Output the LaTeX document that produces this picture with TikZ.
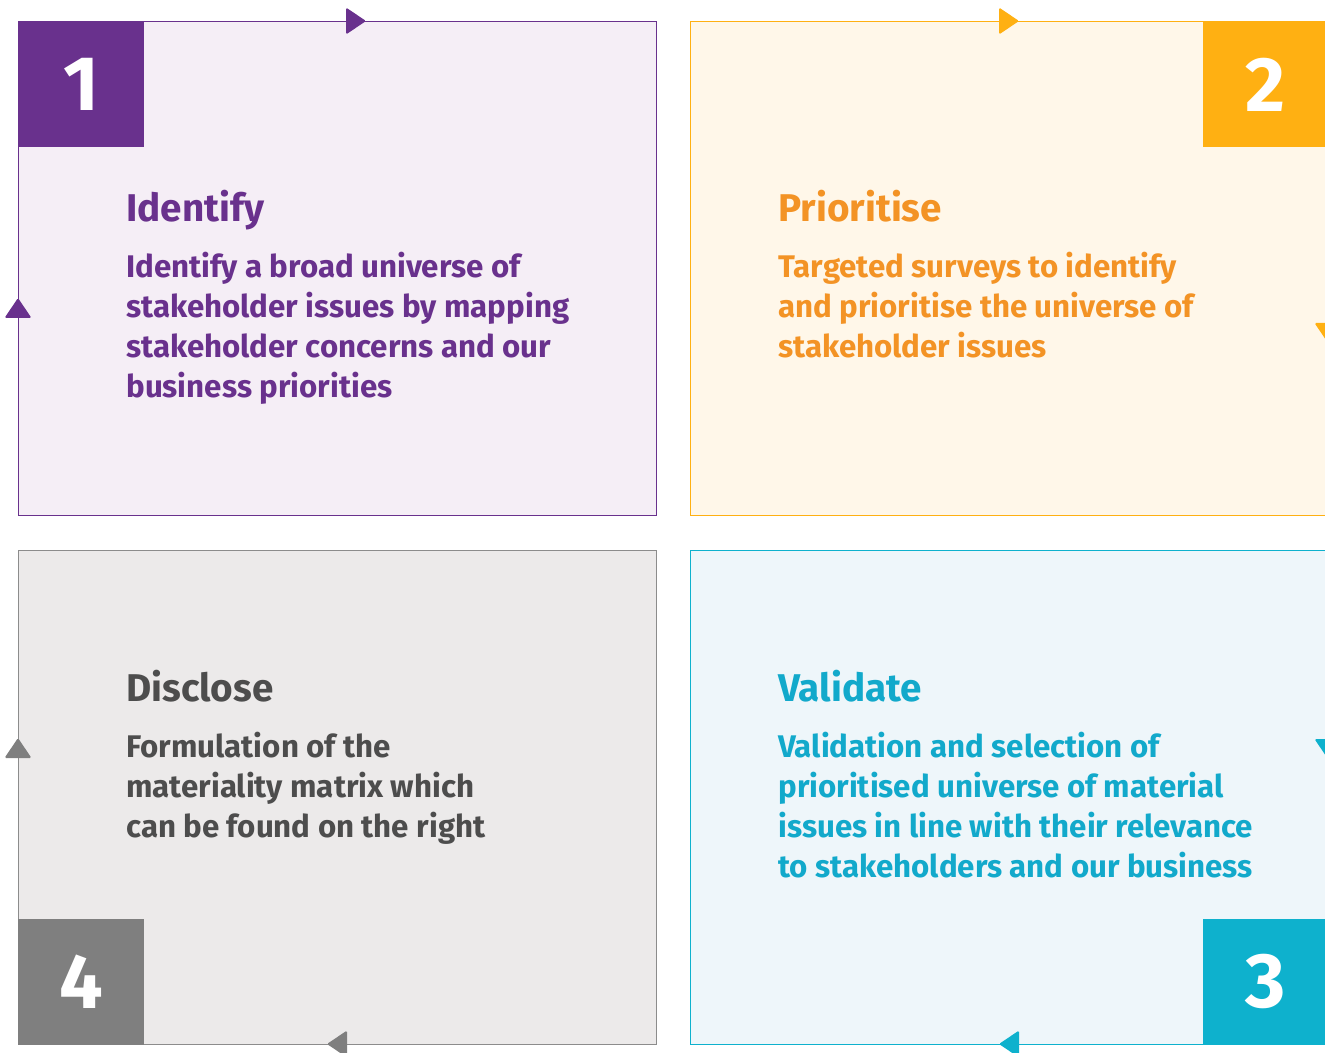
\documentclass[tikz,border=0pt]{standalone}
\usepackage{fontspec}
\setmainfont{Fira Sans}
\usepackage{xcolor}
\usetikzlibrary{positioning}

\definecolor{idpurple}{HTML}{69318D}
\definecolor{idfill}{HTML}{F5EEF6}
\definecolor{prorange}{HTML}{FFB012}
\definecolor{prtext}{HTML}{F39325}
\definecolor{prfill}{HTML}{FFF7E9}
\definecolor{vateal}{HTML}{0EB1CD}
\definecolor{vatext}{HTML}{12A9CB}
\definecolor{vafill}{HTML}{EEF6FA}
\definecolor{digray}{HTML}{7F7F7F}
\definecolor{diline}{HTML}{8C8C8C}
\definecolor{ditext}{HTML}{4D4D4D}
\definecolor{difill}{HTML}{ECEAEA}

\begin{document}
\begin{tikzpicture}[x=0.02cm,y=-0.02cm,
  card/.style={draw=#1,line width=0.7pt,minimum width=12.76cm,minimum height=9.88cm,inner sep=0,anchor=north west},
  num/.style={fill=#1,text=white,minimum size=2.52cm,inner sep=0,font=\fontsize{44}{44}\selectfont\bfseries},
  heading/.style={text=#1,inner sep=0,font=\fontsize{22}{26}\selectfont\bfseries},
  body/.style={text=#1,inner sep=0,align=left,font=\fontsize{17.8}{22.7}\selectfont\bfseries},
  flowtip/.pic={\fill[rounded corners=0.8pt] (-10,-13.5) -- (10,0) -- (-10,13.5) -- cycle;}]
  \useasboundingbox (0,0) rectangle (1325,1053);

  % Cards: top row left to right, bottom row right to left
  \node[card=idpurple,fill=idfill] (identify) at (18,21) {};
  \node[card=prorange,fill=prfill] (prioritise) at (690,21) {};
  \node[card=vateal,fill=vafill] (validate) at (690,550) {};
  \node[card=diline,fill=difill] (disclose) at (18,550) {};

  % Number squares in the outer corners
  \node[num=idpurple,anchor=north west] (n1) at (identify.north west) {1};
  \node[num=prorange,anchor=north east] (n2) at (prioritise.north east) {2};
  \node[num=vateal,anchor=south east] (n3) at (validate.south east) {3};
  \node[num=digray,anchor=south west] (n4) at (disclose.south west) {4};

  % Headings and texts
  \node[heading=idpurple,below right=4.02cm and 2.16cm of identify.north west,anchor=base west] (idhead) {Identify};
  \node[body=idpurple,below=0.6cm of idhead.base west,anchor=north west] (idtext)
    {Identify a broad universe of\\stakeholder issues by mapping\\stakeholder concerns and our\\business priorities};
  \node[heading=prtext,below right=4.02cm and 1.76cm of prioritise.north west,anchor=base west] (prhead) {Prioritise};
  \node[body=prtext,below=0.6cm of prhead.base west,anchor=north west] (prtext)
    {Targeted surveys to identify\\and prioritise the universe of\\stakeholder issues};
  \node[heading=vatext,below right=3.04cm and 1.76cm of validate.north west,anchor=base west] (vahead) {Validate};
  \node[body=vatext,below=0.6cm of vahead.base west,anchor=north west] (vatext)
    {Validation and selection of\\prioritised universe of material\\issues in line with their relevance\\to stakeholders and our business};
  \node[heading=ditext,below right=3.04cm and 2.16cm of disclose.north west,anchor=base west] (dihead) {Disclose};
  \node[body=ditext,below=0.6cm of dihead.base west,anchor=north west] (ditext)
    {Formulation of the\\materiality matrix which\\can be found on the right};

  % Flow marks on the card borders
  \coordinate (f1) at (356,21);
  \coordinate (f2) at (1009,21);
  \coordinate (f3) at (1328,333);
  \coordinate (f4) at (1328,749);
  \coordinate (f5) at (1009,1044);
  \coordinate (f6) at (337,1044);
  \coordinate (f7) at (18,748);
  \coordinate (f8) at (18,308);
  \pic[idpurple] at (f1) {flowtip};
  \pic[prorange] at (f2) {flowtip};
  \pic[prorange,rotate=-90] at (f3) {flowtip};
  \pic[vateal,rotate=-90] at (f4) {flowtip};
  \pic[vateal,rotate=180] at (f5) {flowtip};
  \pic[digray,rotate=180] at (f6) {flowtip};
  \pic[digray,rotate=90] at (f7) {flowtip};
  \pic[idpurple,rotate=90] at (f8) {flowtip};
\end{tikzpicture}
\end{document}
